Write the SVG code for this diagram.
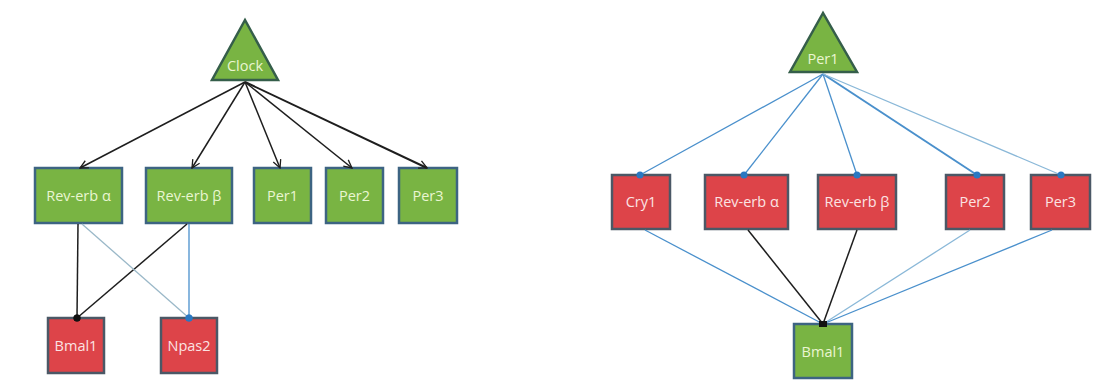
<svg xmlns="http://www.w3.org/2000/svg" width="1117" height="387" viewBox="0 0 1117 387">
<style>
.g{fill:#79b443;stroke:#3d6482;stroke-width:2.5}
.r{fill:#dd4449;stroke:#4b5866;stroke-width:2.5}
.tri{fill:#79b443;stroke:#355e4a;stroke-width:2.5}
.tg{font-family:"Open Sans","Liberation Sans",sans-serif;font-size:14.5px;fill:#eaf6d2;text-anchor:middle}
.tr{font-family:"Open Sans","Liberation Sans",sans-serif;font-size:14.5px;fill:#fbe3e3;text-anchor:middle}
.bk{stroke:#1e1e1e;stroke-width:1.5;fill:none}
.bl{stroke:#4a90cc;stroke-width:1.3;fill:none}
.lb{stroke:#8ab8d8;stroke-width:1.3;fill:none}
</style>
<defs>
<marker id="arr" markerWidth="10" markerHeight="10" refX="9" refY="5" orient="auto" markerUnits="userSpaceOnUse">
<path d="M1,1 L9,5 L1,9" fill="none" stroke="#1e1e1e" stroke-width="1.3"/>
</marker>
<marker id="dotb" markerWidth="10" markerHeight="10" refX="5" refY="5" markerUnits="userSpaceOnUse">
<circle cx="5" cy="5" r="3.5" fill="#2a78c2"/>
</marker>
<marker id="dotk" markerWidth="10" markerHeight="10" refX="5" refY="5" markerUnits="userSpaceOnUse">
<circle cx="5" cy="5" r="3.5" fill="#111"/>
</marker>
</defs>
<rect width="1117" height="387" fill="#ffffff"/>
<g id="clock"><polygon class="tri" points="245,20 212,80 278,80"/><text class="tg" x="245" y="71">Clock</text></g>
<g id="reverb-a-left"><rect class="g" x="35" y="168" width="87" height="55"/><text class="tg" x="78.5" y="201">Rev-erb α</text></g>
<g id="reverb-b-left"><rect class="g" x="146" y="168" width="86" height="55"/><text class="tg" x="189" y="201">Rev-erb β</text></g>
<g id="per1-left"><rect class="g" x="254" y="168" width="57" height="55"/><text class="tg" x="282.5" y="201">Per1</text></g>
<g id="per2-left"><rect class="g" x="326" y="168" width="57" height="55"/><text class="tg" x="354.5" y="201">Per2</text></g>
<g id="per3-left"><rect class="g" x="399" y="168" width="58" height="55"/><text class="tg" x="428" y="201">Per3</text></g>
<g id="bmal1-left"><rect class="r" x="48" y="318" width="56" height="55"/><text class="tr" x="76" y="351">Bmal1</text></g>
<g id="npas2-left"><rect class="r" x="161" y="318" width="56" height="55"/><text class="tr" x="189" y="351">Npas2</text></g>
<g id="per1-right"><polygon class="tri" points="823,13 790,72 857,72"/><text class="tg" x="823" y="64">Per1</text></g>
<g id="cry1-right"><rect class="r" x="612" y="175" width="58" height="54"/><text class="tr" x="641" y="207">Cry1</text></g>
<g id="reverb-a-right"><rect class="r" x="705" y="175" width="83" height="54"/><text class="tr" x="746.5" y="207">Rev-erb α</text></g>
<g id="reverb-b-right"><rect class="r" x="818" y="175" width="78" height="54"/><text class="tr" x="857" y="207">Rev-erb β</text></g>
<g id="per2-right"><rect class="r" x="946" y="175" width="58" height="54"/><text class="tr" x="975" y="207">Per2</text></g>
<g id="per3-right"><rect class="r" x="1031" y="175" width="59" height="54"/><text class="tr" x="1060.5" y="207">Per3</text></g>
<g id="bmal1-right"><rect class="g" x="794" y="324" width="58" height="54"/><text class="tg" x="823" y="357">Bmal1</text></g>
<g id="connectors">
<line class="bk" x1="245" y1="82" x2="80" y2="168" marker-end="url(#arr)"/>
<line class="bk" x1="245" y1="82" x2="192" y2="168" marker-end="url(#arr)"/>
<line class="bk" x1="245" y1="82" x2="280" y2="168" marker-end="url(#arr)"/>
<line class="bk" x1="245" y1="82" x2="352" y2="168" marker-end="url(#arr)"/>
<line class="bk" x1="245" y1="82" x2="427" y2="168" marker-end="url(#arr)" style="stroke-width:2"/>
<line class="bk" x1="78" y1="224" x2="77" y2="318" marker-end="url(#dotk)"/>
<line class="bk" x1="187" y1="224" x2="77" y2="318" marker-end="url(#dotk)"/>
<line class="lb" x1="82" y1="224" x2="189" y2="318" marker-end="url(#dotb)" style="stroke:#9ab8c8"/>
<line class="bl" x1="189" y1="224" x2="189" y2="318" marker-end="url(#dotb)"/>
<line class="bl" x1="823" y1="74" x2="640" y2="175" marker-end="url(#dotb)"/>
<line class="bl" x1="823" y1="74" x2="744" y2="175" marker-end="url(#dotb)"/>
<line class="bl" x1="823" y1="74" x2="857" y2="175" marker-end="url(#dotb)"/>
<line class="bl" x1="823" y1="74" x2="977" y2="175" marker-end="url(#dotb)" style="stroke-width:2"/>
<line class="lb" x1="823" y1="74" x2="1061" y2="175" marker-end="url(#dotb)"/>
<line class="bl" x1="645" y1="230" x2="823" y2="324"/>
<line class="bk" x1="748" y1="230" x2="823" y2="324"/>
<line class="bk" x1="857" y1="230" x2="823" y2="324"/>
<line class="lb" x1="970" y1="230" x2="823" y2="324"/>
<line class="bl" x1="1052" y1="230" x2="823" y2="324"/>
<rect x="819" y="321" width="8" height="6" fill="#111"/>
</g>
</svg>
